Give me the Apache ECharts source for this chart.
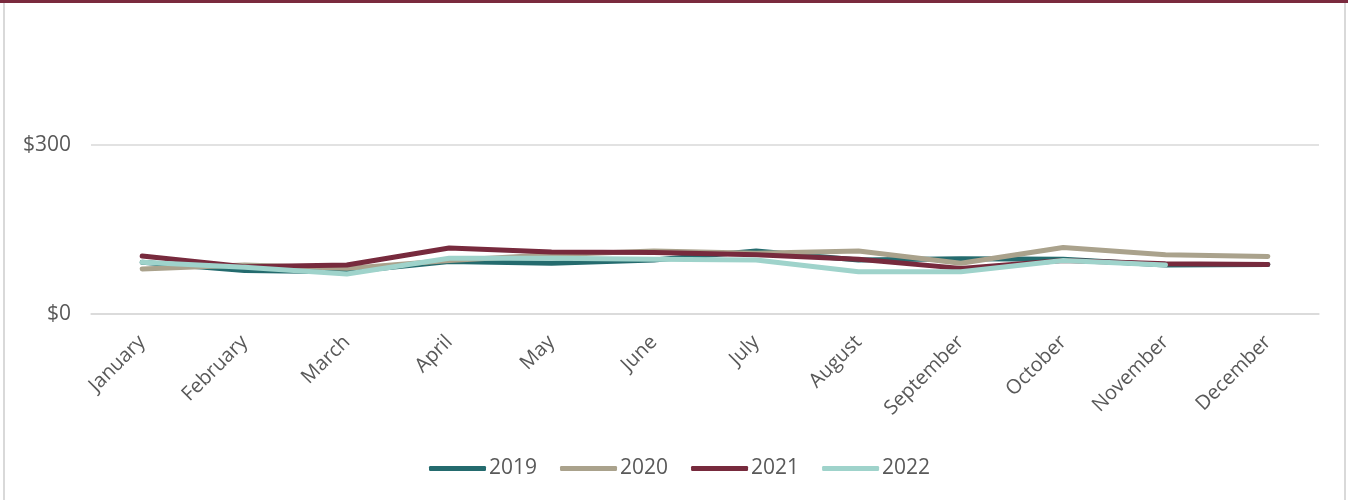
<!DOCTYPE html>
<html>
<head>
<meta charset="utf-8">
<script src="https://cdn.jsdelivr.net/npm/echarts@6/dist/echarts.min.js"></script>
<style>
html,body{margin:0;padding:0;background:#fff;}
#frame{position:absolute;left:0;top:0;width:1348px;height:500px;}
#topbar{position:absolute;left:0;top:0;width:1348px;height:3px;background:#7a2a3e;}
#lb{position:absolute;left:3px;top:3px;width:2px;height:497px;background:#d9d9d9;}
#rb{position:absolute;left:1344px;top:3px;width:2px;height:497px;background:#d9d9d9;}
#chart{position:absolute;left:0;top:0;width:1348px;height:500px;}
</style>
</head>
<body>
<div id="frame"><div id="topbar"></div><div id="lb"></div><div id="rb"></div></div>
<div id="chart"></div>
<script>
const months = ["January","February","March","April","May","June","July","August","September","October","November","December"];
const yTicks = [0, 300];
const s2019 = [92, 77, 75, 93, 90, 96, 112, 96, 98, 97, 87, 88];
const s2020 = [80, 87, 81, 95, 105, 112, 108, 112, 90, 118, 105, 102];
const s2021 = [103, 84, 87, 117, 110, 109, 105, 97, 81, 95, 89, 88];
const s2022 = [92, 83, 71, 99, 99, 97, 96, 75, 75, 95, 87, null];
const names = ["2019","2020","2021","2022"];
const colors = ["#246b6e","#aaa28c","#772a3d","#9fd3cb"];
const data = [s2019, s2020, s2021, s2022];

const chart = echarts.init(document.getElementById('chart'), null, {renderer:'canvas'});
const font = '"Open Sans", "Noto Sans", sans-serif';
chart.setOption({
  animation: false,
  backgroundColor: 'transparent',
  color: colors,
  grid: {left: 91, right: 29, top: 145, bottom: 186, containLabel: false},
  legend: {
    data: names,
    top: 453,
    left: 424,
    icon: 'roundRect',
    itemWidth: 57,
    itemHeight: 5,
    itemGap: 23,
    textStyle: {color: '#595959', fontSize: 21, fontFamily: font, padding: [0,0,0,-2]}
  },
  xAxis: {
    type: 'category',
    data: months,
    boundaryGap: true,
    axisLine: {lineStyle: {color: '#d9d9d9', width: 1.5}},
    axisTick: {show: false},
    axisLabel: {rotate: 45, margin: 25, color: '#595959', fontSize: 20, fontFamily: font, interval: 0}
  },
  yAxis: {
    type: 'value',
    min: yTicks[0],
    max: yTicks[1],
    interval: 300,
    axisLine: {show: false},
    axisTick: {show: false},
    splitLine: {lineStyle: {color: '#d9d9d9', width: 1.5}},
    axisLabel: {margin: 20, color: '#595959', fontSize: 21, fontFamily: font, formatter: v => '$' + v}
  },
  series: names.map((n, i) => ({
    name: n,
    type: 'line',
    data: data[i],
    symbol: 'none',
    lineStyle: {width: 5, color: colors[i], cap: 'round', join: 'round'},
    itemStyle: {color: colors[i]}
  }))
});
</script>
</body>
</html>
